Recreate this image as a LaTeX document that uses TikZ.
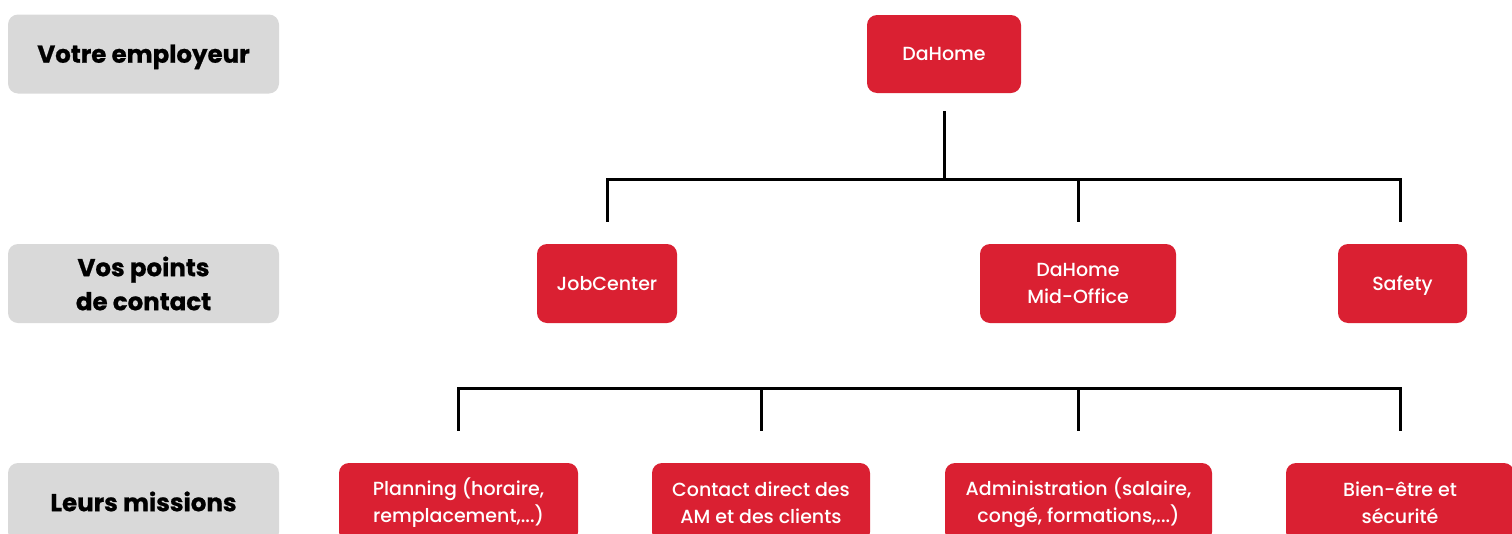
\documentclass[tikz,border=0pt]{standalone}
\usepackage{fontspec}
\setmainfont{Poppins}
\newfontfamily\redfont{Poppins}[UprightFont=* Medium]
\newfontfamily\grayfont{Poppins}[UprightFont=*, BoldFont=* Bold, BoldFeatures={FakeBold=0.8}]
\usetikzlibrary{calc}
\definecolor{dared}{HTML}{DA2032}
\definecolor{lgray}{HTML}{D9D9D9}
\begin{document}
\begin{tikzpicture}[x=1pt,y=-1pt,
  redbox/.style={fill=dared, rounded corners=10pt, text=white, align=center,
    font=\redfont\fontsize{19}{27}\selectfont, inner sep=0pt, minimum height=79pt},
  graybox/.style={fill=lgray, rounded corners=10pt, text=black, align=center,
    font=\grayfont\bfseries\fontsize{24.5}{34}\selectfont, inner sep=0pt,
    minimum width=271pt, minimum height=79pt},
  redline/.style={text height=13.4pt, text depth=0pt},
  grayline/.style={text height=17.4pt, text depth=0pt},
  conn/.style={line width=3pt, black}]
\useasboundingbox (0,0) rectangle (1512,533);
% row labels
\node[graybox, grayline] (g1) at (143.5,54) {Votre employeur};
\node[graybox] (g2) at (143.5,283.5) {Vos points\\de contact};
\node[graybox, grayline] (g3) at (143.5,502.5) {Leurs missions};
% nodes
\node[redbox, redline, minimum width=154pt, minimum height=78pt] (dahome) at (944,54) {DaHome};
\node[redbox, redline, minimum width=140pt] (job) at (607,283.5) {JobCenter};
\node[redbox, minimum width=196pt] (mid) at (1078,283.5) {DaHome\\Mid-Office};
\node[redbox, redline, minimum width=129pt] (safety) at (1402.5,283.5) {Safety};
\node[redbox, minimum width=239pt] (planning) at (458.5,502.5) {Planning (horaire,\\remplacement,...)};
\node[redbox, minimum width=218pt] (contact) at (761,502.5) {Contact direct des\\AM et des clients};
\node[redbox, minimum width=267pt] (admin) at (1078.5,502.5) {Administration (salaire,\\congé, formations,...)};
\node[redbox, minimum width=228pt] (bien) at (1400,502.5) {Bien-être et\\sécurité};
% connectors
\coordinate (bus1) at (944,179);
\coordinate (bus2) at (944,388);
\draw[conn, shorten <=18pt, shorten >=22pt] (dahome.south) -- (dahome.south |- bus1) -| (job.north);
\draw[conn, shorten <=18pt, shorten >=22pt] (dahome.south) -- (dahome.south |- bus1) -| (mid.north);
\draw[conn, shorten <=18pt, shorten >=22pt] (dahome.south) -- (dahome.south |- bus1) -| ([xshift=-2.5pt]safety.north);
\draw[conn, shorten <=32pt, shorten >=32pt] (planning.north) -- (planning.north |- bus2) -- (bien.north |- bus2) -- (bien.north);
\draw[conn, shorten >=32pt] (contact.north |- bus2) -- (contact.north);
\draw[conn, shorten >=32pt] (admin.north |- bus2) -- (admin.north);
\end{tikzpicture}
\end{document}
